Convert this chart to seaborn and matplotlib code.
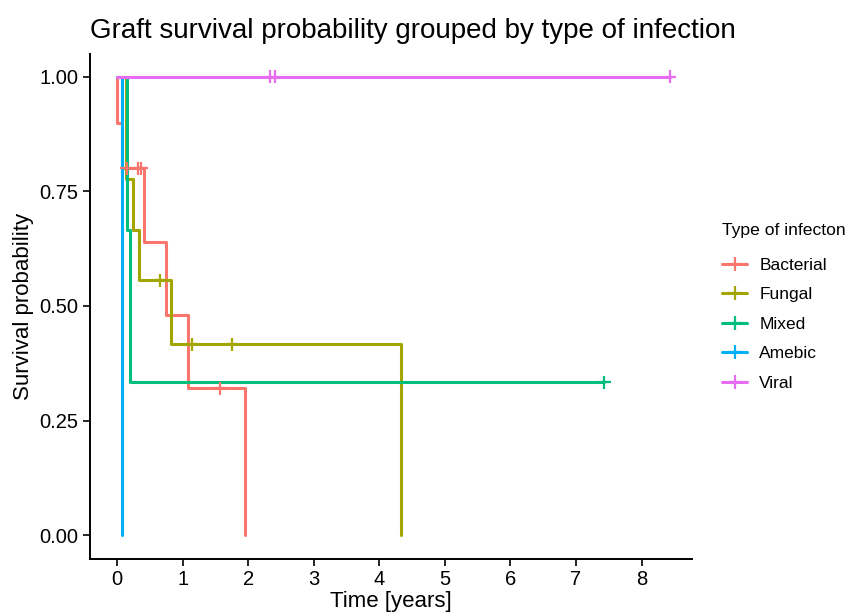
import numpy as np
import pandas as pd
import matplotlib
matplotlib.use("Agg")
import matplotlib.pyplot as plt
from matplotlib.lines import Line2D
import seaborn as sns

# ---- data (times in years, status 1 = graft loss, 0 = censored) ----
groups = ["Bacterial", "Fungal", "Mixed", "Amebic", "Viral"]
bacterial_time = [0.005, 0.075, 0.15, 0.32, 0.37, 0.41, 0.75, 1.08, 1.57, 1.955]
bacterial_status = [1, 1, 0, 0, 0, 1, 1, 1, 0, 1]
fungal_time = [0.14, 0.14, 0.245, 0.33, 0.65, 0.82, 1.15, 1.75, 4.33]
fungal_status = [1, 1, 1, 1, 0, 1, 0, 0, 1]
mixed_time = [0.152, 0.20, 7.43]
mixed_status = [1, 1, 0]
amebic_time = [0.075]
amebic_status = [1]
viral_time = [2.33, 2.41, 8.43]
viral_status = [0, 0, 0]
colors = ["#F8766D", "#A3A500", "#00BF7D", "#00B0F6", "#E76BF3"]
x_ticks = [0, 1, 2, 3, 4, 5, 6, 7, 8]
y_ticks = [0.0, 0.25, 0.5, 0.75, 1.0]
y_tick_labels = ["0.00", "0.25", "0.50", "0.75", "1.00"]

raw = {
    "Bacterial": (bacterial_time, bacterial_status),
    "Fungal": (fungal_time, fungal_status),
    "Mixed": (mixed_time, mixed_status),
    "Amebic": (amebic_time, amebic_status),
    "Viral": (viral_time, viral_status),
}


def km_steps(times, status):
    t = np.asarray(times, float)
    s = np.asarray(status, int)
    order = np.argsort(t, kind="stable")
    t, s = t[order], s[order]
    surv = 1.0
    xs, ys = [0.0], [1.0]
    cens_x, cens_y = [], []
    for ut in np.unique(t):
        mask = t == ut
        at_risk = np.sum(t >= ut)
        d = np.sum(s[mask] == 1)
        c = np.sum(s[mask] == 0)
        if d > 0:
            xs.append(ut); ys.append(surv)
            surv = surv * (1 - d / at_risk)
            xs.append(ut); ys.append(surv)
        if c > 0:
            cens_x.extend([ut] * c); cens_y.extend([surv] * c)
    last = t.max()
    if xs[-1] < last:
        xs.append(last); ys.append(surv)
    return xs, ys, cens_x, cens_y


line_rows, cens_rows = [], []
for g in groups:
    xs, ys, cx, cy = km_steps(*raw[g])
    for i, (a, b) in enumerate(zip(xs, ys)):
        line_rows.append({"group": g, "time": a, "surv": b, "idx": i})
    for a, b in zip(cx, cy):
        cens_rows.append({"group": g, "time": a, "surv": b})
lines_df = pd.DataFrame(line_rows)
cens_df = pd.DataFrame(cens_rows)

sns.set_theme(style="ticks")
plt.rcParams["font.family"] = ["Liberation Sans", "DejaVu Sans"]
plt.rcParams["text.color"] = "black"
plt.rcParams["axes.labelcolor"] = "black"
plt.rcParams["xtick.color"] = "black"
plt.rcParams["ytick.color"] = "black"

fig = plt.figure(figsize=(8.47, 6.15), dpi=100)
ax = fig.add_axes([89.5 / 847, 1 - 559 / 615, (692 - 89.5) / 847, (559 - 53.8) / 615])

palette = dict(zip(groups, colors))
sns.lineplot(data=lines_df, x="time", y="surv", hue="group", hue_order=groups,
             palette=palette, estimator=None, sort=False, units="group",
             linewidth=2.2, legend=False, ax=ax)
sns.scatterplot(data=cens_df, x="time", y="surv", hue="group", hue_order=groups,
                palette=palette, marker="+", s=90, linewidth=1.6, legend=False, ax=ax,
                zorder=5)

ax.set_xlim(-0.42, 8.77)
ax.set_ylim(-0.052, 1.05)
ax.set_xticks(x_ticks)
ax.set_xticklabels([str(v) for v in x_ticks])
ax.set_yticks(y_ticks)
ax.set_yticklabels(y_tick_labels)
ax.tick_params(axis="both", labelsize=14.5, colors="black", labelcolor="black",
               length=5, width=1.2, direction="out", pad=3)
for side in ["top", "right"]:
    ax.spines[side].set_visible(False)
for side in ["left", "bottom"]:
    ax.spines[side].set_linewidth(1.4)
    ax.spines[side].set_color("black")
ax.set_xlabel("Time [years]", fontsize=16, labelpad=1, color="black")
ax.set_ylabel("Survival probability", fontsize=16, labelpad=4, color="black")

fig.text(90 / 847, 1 - 38 / 615, "Graft survival probability grouped by type of infection",
         fontsize=20, ha="left", va="baseline", color="black")

handles = [Line2D([0], [0], color=c, lw=2.2, marker="+", markersize=10, mew=1.6)
           for c in colors]
leg = fig.legend(handles, groups, title="Type of infecton", loc="upper left",
                 bbox_to_anchor=(722 / 847, 1 - 223 / 615), frameon=False,
                 borderaxespad=0, borderpad=0,
                 fontsize=12.5, title_fontsize=12.6, handlelength=1.45,
                 labelspacing=0.83, handletextpad=0.7, alignment="left")
leg._legend_box.sep = 14
for txt in leg.get_texts():
    txt.set_color("black")
leg.get_title().set_color("black")

fig.savefig("out.png", dpi=100)
